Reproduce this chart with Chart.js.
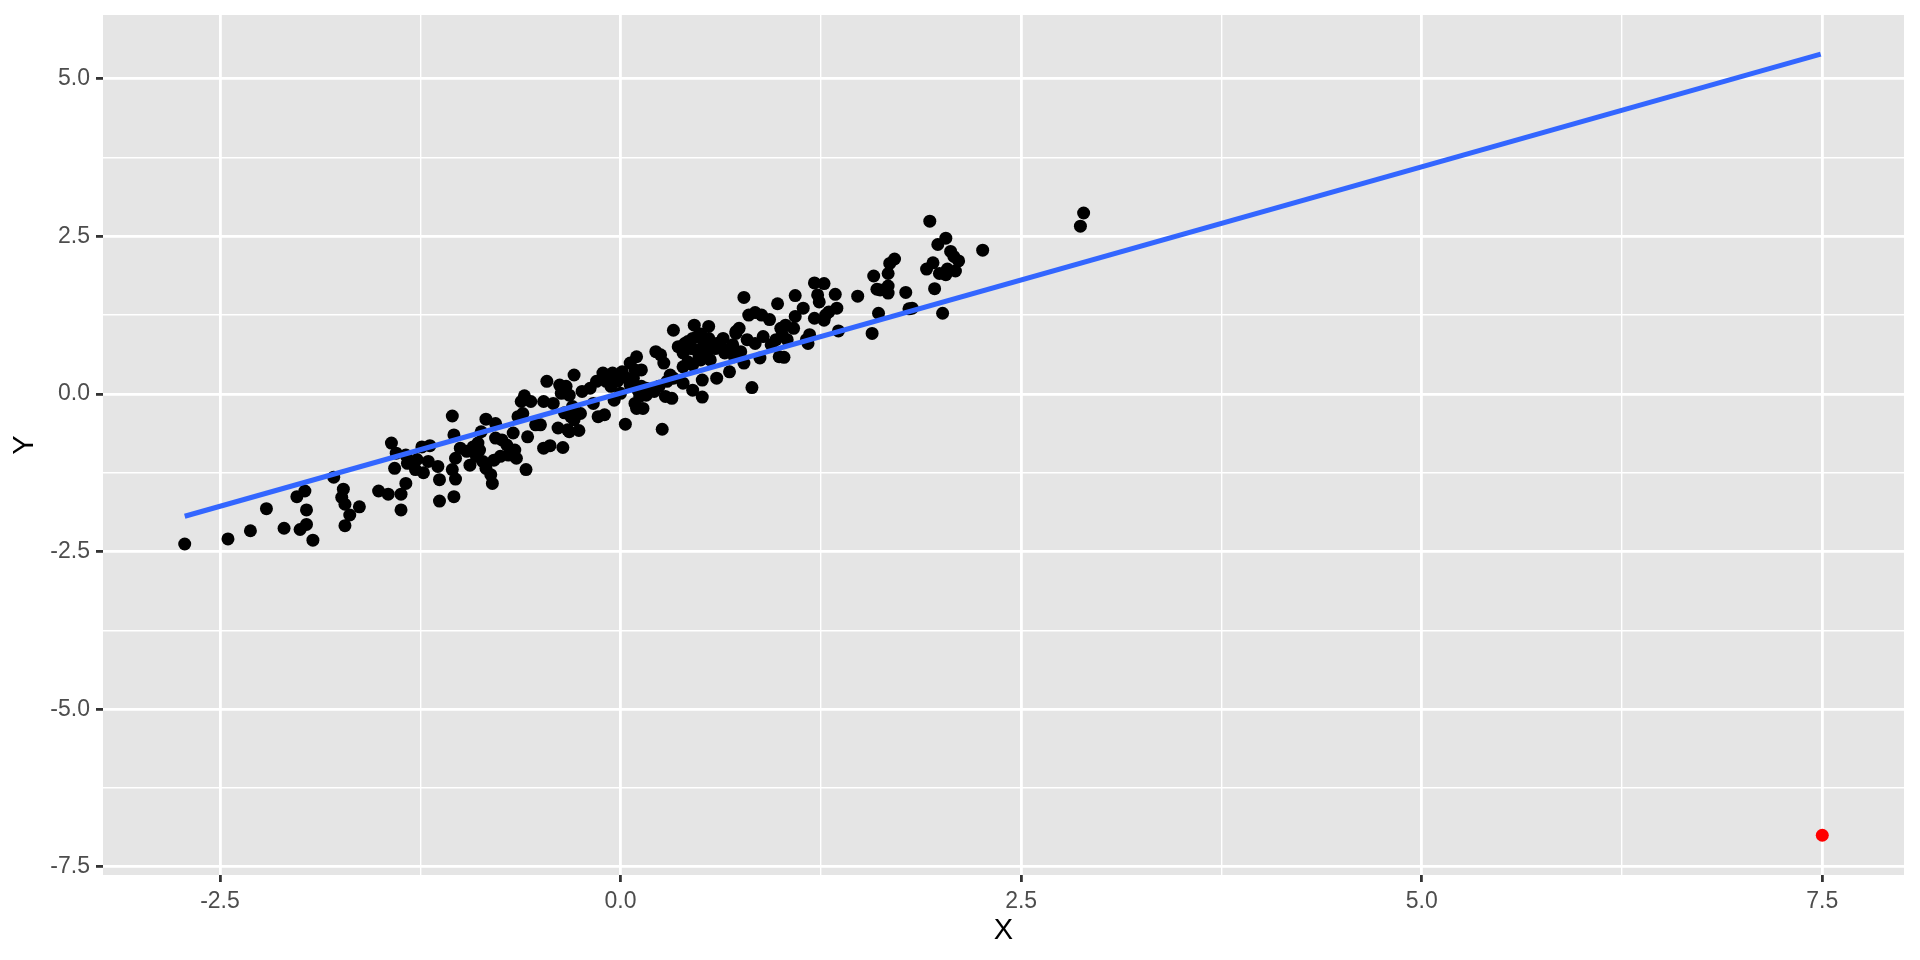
<!DOCTYPE html>
<html>
<head>
    <title>Scatter with regression line</title>
    <script src="https://cdn.jsdelivr.net/npm/chart.js"></script>
    <style>
        body {
            margin: 0;
            padding: 0;
            background-color: #fff;
        }

        #wrap {
            width: 1920px;
            height: 960px;
            position: relative;
        }
    </style>
</head>
<body>
    <div id="wrap">
        <canvas id="myChart"></canvas>
    </div>

    <script>
        // points
        var pointsX = [
            -2.72, -2.45, -2.31, -2.21, -2.10, -2.02, -1.97, -1.96, -2.00, -1.96,
            -1.92, -1.79, -1.73, -1.74, -1.72, -1.69, -1.72, -1.63, -1.51, -1.45,
            -1.37, -1.37, -1.34, -1.43, -1.41, -1.40, -1.34, -1.33, -1.27, -1.24,
            -1.19, -1.28, -1.23, -1.20, -1.14, -1.13, -1.13, -1.05, -1.04, -1.05,
            -1.03, -1.04, -1.03, -1.00, -0.96, -0.94, -0.92, -0.89, -0.88, -0.90,
            -0.87, -0.84, -0.86, -0.84, -0.81, -0.80, -0.78, -0.78, -0.79, -0.75,
            -0.74, -0.71, -0.70, -0.67, -0.66, -0.65, -0.64, -0.61, -0.59, -0.62,
            -0.60, -0.56, -0.58, -0.53, -0.48, -0.44, -0.48, -0.46, -0.42, -0.39,
            -0.36, -0.38, -0.34, -0.37, -0.32, -0.30, -0.31, -0.33, -0.29, -0.35,
            -0.50, -0.32, -0.26, -0.29, -0.25, -0.24, -0.19, -0.17, -0.14, -0.10,
            -0.11, -0.09, -0.06, -0.05, 0.01, -0.04, 0.03, 0.00, 0.04, 0.06,
            0.06, 0.10, 0.09, 0.13, 0.09, 0.10, 0.14, 0.12, 0.16, 0.13,
            0.16, 0.22, 0.25, 0.27, 0.21, 0.24, 0.28, 0.32, 0.26, 0.29,
            0.31, 0.33, 0.33, 0.36, 0.39, 0.42, 0.44, 0.39, 0.42, 0.45,
            0.46, 0.45, 0.48, 0.52, 0.55, 0.55, 0.39, 0.45, 0.51, 0.51,
            0.49, 0.56, 0.58, 0.64, 0.60, 0.68, 0.69, 0.72, 0.82, 0.50,
            0.59, 0.66, 0.72, 0.74, 0.70, 0.75, 0.79, 0.71, 0.77, 0.84,
            0.87, 0.89, 0.77, 0.80, 0.84, 0.88, 0.93, 0.94, 0.97, 0.99,
            1.02, 0.98, 1.00, 1.03, 1.08, 1.01, 1.04, 1.09, 1.09, 1.14,
            1.16, 1.18, 1.17, 1.21, 1.27, 1.21, 1.23, 1.24, 1.28, 1.30,
            1.35, 1.27, 1.34, 1.36, 1.48, 1.57, 1.58, 1.60, 1.61, 1.67,
            1.68, 1.67, 1.67, 1.71, 1.62, 1.78, 1.80, 1.82, 1.93, 1.91,
            1.95, 1.96, 1.98, 2.03, 1.99, 2.03, 2.04, 2.09, 2.06, 2.08,
            2.11, 2.01, 2.26, 2.87, 2.89,
            0.40, 0.47, 0.50, 0.60, 0.65, 0.53, -0.15, -0.02, 0.08, 0.11
        ];
        var pointsY = [
            -2.38, -2.30, -2.17, -1.82, -2.13, -1.63, -1.54, -1.84, -2.15, -2.07,
            -2.32, -1.32, -1.51, -1.64, -1.75, -1.92, -2.09, -1.79, -1.54, -1.59,
            -1.59, -1.84, -1.42, -0.78, -1.18, -0.94, -0.97, -1.10, -1.04, -0.84,
            -0.82, -1.20, -1.25, -1.07, -1.15, -1.36, -1.70, -0.35, -0.65, -1.20,
            -1.35, -1.63, -1.02, -0.86, -0.91, -1.13, -0.84, -0.78, -0.89, -0.99,
            -0.60, -0.40, -1.07, -1.18, -1.28, -1.42, -0.47, -0.70, -1.05, -0.99,
            -0.73, -0.81, -0.97, -0.62, -0.89, -1.02, -0.36, -0.31, -1.20, -0.12,
            -0.03, -0.12, -0.68, -0.49, -0.86, -0.82, -0.12, 0.20, -0.15, -0.54,
            -0.85, 0.14, 0.12, 0.01, -0.02, -0.20, -0.36, -0.57, 0.30, -0.30,
            -0.49, -0.60, -0.58, -0.41, -0.31, 0.04, 0.09, -0.15, -0.36, -0.33,
            0.33, 0.20, 0.12, 0.33, 0.35, -0.10, -0.48, 0.01, 0.25, 0.14,
            0.49, 0.59, 0.38, 0.38, -0.15, -0.23, -0.23, -0.04, -0.02, 0.12,
            0.09, 0.67, 0.62, 0.49, 0.04, 0.12, -0.04, -0.07, -0.56, 0.20,
            0.30, 0.25, 1.01, 0.75, 0.65, 0.83, 0.72, 0.43, 0.51, 0.46,
            1.09, 0.88, 0.91, 0.80, 1.07, 0.88, 0.17, 0.06, -0.05, 0.22,
            0.59, 0.54, 0.75, 0.88, 0.25, 0.35, 0.72, 0.96, 0.10, 0.54,
            0.72, 0.70, 0.99, 1.04, 0.78, 0.67, 0.86, 0.59, 0.49, 0.80,
            0.57, 0.91, 1.53, 1.25, 1.29, 1.25, 1.18, 0.78, 0.86, 0.59,
            0.58, 1.43, 1.04, 1.09, 1.04, 0.94, 0.86, 1.23, 1.56, 1.36,
            0.86, 0.94, 0.80, 1.76, 1.75, 1.20, 1.57, 1.46, 1.25, 1.30,
            1.36, 1.17, 1.58, 1.00, 1.55, 0.96, 1.87, 1.66, 1.28, 1.91,
            2.07, 1.71, 1.60, 2.14, 1.65, 1.61, 1.35, 1.36, 2.74, 1.98,
            2.08, 1.67, 2.37, 2.47, 1.91, 1.89, 1.98, 1.95, 2.26, 2.18,
            2.11, 1.28, 2.28, 2.66, 2.87,
            0.80, 0.70, 0.95, 0.80, 0.65, 0.65, 0.20, 0.20, 0.25, 0.05
        ];

        // the outlier
        var outlierX = [7.5];
        var outlierY = [-7.0];

        // fitted line ends
        var fitX = [-2.72, 7.49];
        var fitY = [-1.94, 5.39];

        // grid / tick values, labels only on the major ones
        var xTicks = [-2.5, -1.25, 0, 1.25, 2.5, 3.75, 5, 6.25, 7.5];
        var yTicks = [-7.5, -6.25, -5, -3.75, -2.5, -1.25, 0, 1.25, 2.5, 3.75, 5];

        function toXY(xs, ys) {
            var out = [];
            for (var i = 0; i < xs.length; i++) {
                out.push({ x: xs[i], y: ys[i] });
            }
            return out;
        }

        function isMajor(v) {
            return Math.abs(v / 2.5 - Math.round(v / 2.5)) < 1e-6;
        }

        // grey panel behind everything
        var panelBg = {
            id: 'panelBg',
            beforeDraw: function (chart) {
                var a = chart.chartArea;
                var ctx = chart.ctx;
                ctx.save();
                ctx.fillStyle = '#E5E5E5';
                ctx.fillRect(a.left, a.top, a.right - a.left, a.bottom - a.top);
                ctx.restore();
            }
        };

        function axisOpts(tickVals) {
            return {
                type: 'linear',
                afterBuildTicks: function (axis) {
                    axis.ticks = tickVals.map(function (v) { return { value: v }; });
                },
                border: { display: false },
                grid: {
                    color: '#FFFFFF',
                    lineWidth: function (c) { return c.tick && isMajor(c.tick.value) ? 2.8 : 1.4; },
                    tickColor: function (c) { return c.tick && isMajor(c.tick.value) ? '#333333' : 'rgba(0,0,0,0)'; },
                    tickWidth: 2.8,
                    tickLength: 7
                },
                ticks: {
                    autoSkip: false,
                    maxRotation: 0,
                    padding: 6,
                    color: '#4D4D4D',
                    font: { family: 'Liberation Sans, Arial, sans-serif', size: 23 },
                    callback: function (v) { return isMajor(v) ? v.toFixed(1) : ''; }
                }
            };
        }

        var xAxis = axisOpts(xTicks);
        xAxis.min = -3.23;
        xAxis.max = 8.01;
        xAxis.title = {
            display: true,
            text: 'X',
            color: '#000000',
            font: { family: 'Liberation Sans, Arial, sans-serif', size: 29 },
            padding: { top: 0, bottom: 12 }
        };
        xAxis.afterFit = function (s) {
            s.height = 85;
            s.paddingLeft = 0;
            s.paddingRight = 0;
        };

        var yAxis = axisOpts(yTicks);
        yAxis.min = -7.63;
        yAxis.max = 6.01;
        yAxis.title = {
            display: true,
            text: 'Y',
            color: '#000000',
            font: { family: 'Liberation Sans, Arial, sans-serif', size: 29 },
            padding: { top: 8, bottom: 0 }
        };
        yAxis.afterFit = function (s) {
            s.width = 103;
            s.paddingTop = 0;
            s.paddingBottom = 0;
        };

        var ctx = document.getElementById('myChart').getContext('2d');
        var myChart = new Chart(ctx, {
            type: 'scatter',
            data: {
                datasets: [
                    {
                        type: 'line',
                        label: 'fit',
                        data: toXY(fitX, fitY),
                        borderColor: '#3366FF',
                        borderWidth: 5,
                        pointRadius: 0,
                        fill: false,
                        order: 0
                    },
                    {
                        label: 'outlier',
                        data: toXY(outlierX, outlierY),
                        backgroundColor: '#FF0000',
                        borderWidth: 0,
                        pointRadius: 6.5,
                        order: 1
                    },
                    {
                        label: 'points',
                        data: toXY(pointsX, pointsY),
                        backgroundColor: '#000000',
                        borderWidth: 0,
                        pointRadius: 6.5,
                        order: 2
                    }
                ]
            },
            options: {
                responsive: true,
                maintainAspectRatio: false,
                animation: false,
                layout: { padding: { top: 15, right: 16, bottom: 0, left: 0 } },
                plugins: {
                    legend: { display: false },
                    tooltip: { enabled: false }
                },
                scales: {
                    x: xAxis,
                    y: yAxis
                }
            },
            plugins: [panelBg]
        });
    </script>
</body>
</html>
